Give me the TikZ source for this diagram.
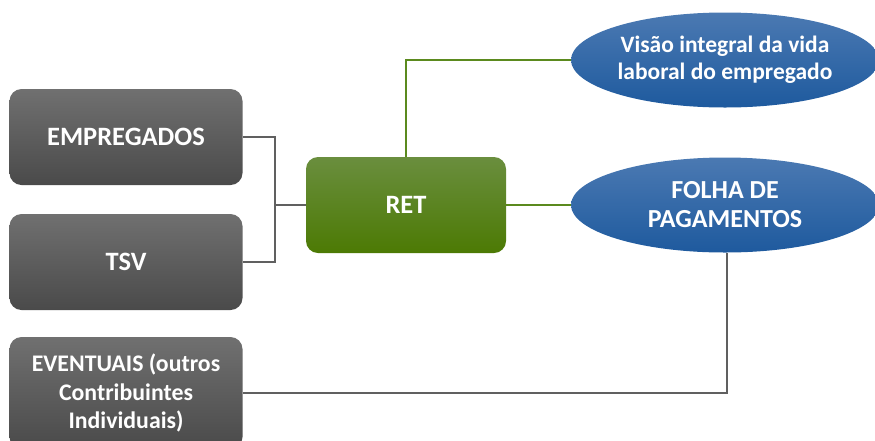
\documentclass[tikz,border=0pt]{standalone}
\usepackage{fontspec}
\setmainfont{Carlito}
\usetikzlibrary{shapes.geometric}
\definecolor{grytop}{HTML}{707070}
\definecolor{grybot}{HTML}{4A4A4A}
\definecolor{grntop}{HTML}{6A8E3E}
\definecolor{grnbot}{HTML}{4C7A04}
\definecolor{blutop}{HTML}{4B79B2}
\definecolor{blubot}{HTML}{1E5A9E}
\definecolor{gryln}{HTML}{606060}
\definecolor{grnln}{HTML}{5B8A1E}
\begin{document}
\begin{tikzpicture}[x=1pt,y=-1pt,
	grybox/.style={rounded corners=12pt,top color=grytop,bottom color=grybot,
		minimum width=233pt,minimum height=96pt,inner sep=0pt,text=white,
		font=\bfseries\fontsize{26.5}{31}\selectfont,align=center},
	grnbox/.style={rounded corners=12pt,top color=grntop,bottom color=grnbot,
		minimum width=200pt,minimum height=96pt,inner sep=0pt,text=white,
		font=\bfseries\fontsize{26.5}{31}\selectfont},
	bluell/.style={ellipse,top color=blutop,bottom color=blubot,
		minimum width=308pt,minimum height=95pt,inner sep=0pt,text=white,
		font=\bfseries\fontsize{23.5}{27}\selectfont,align=center},
	gryline/.style={draw=gryln,line width=1.6pt},
	grnline/.style={draw=grnln,line width=1.6pt}]
			\clip (0,0) rectangle (875,440);
			\node[grybox] (emp) at (126,137) {EMPREGADOS};
			\node[grybox] (tsv) at (126,262) {TSV};
			\node[grybox,minimum height=112pt,font=\bfseries\fontsize{23.8}{28.5}\selectfont]
			(evt) at (126,393) {EVENTUAIS (outros\\Contribuintes\\Individuais)};
			\node[grnbox] (ret) at (406,205) {RET};
			\node[bluell] (vis) at (725,60) {Visão integral da vida\\laboral do empregado};
			\node[bluell,font=\bfseries\fontsize{26}{29}\selectfont]
			(fol) at (725,205) {FOLHA DE\\PAGAMENTOS};
			\coordinate (jn) at (275,205);
			\draw[gryline] (emp.east) -| (jn) |- (tsv.east);
			\draw[gryline] (jn) -- (ret.west);
			\draw[grnline] (ret.north) |- (vis.west);
			\draw[grnline] (ret.east) -- (fol.west);
			\draw[gryline] ([xshift=2pt]fol.south) |- (evt.east);
			\end{tikzpicture}
\end{document}
